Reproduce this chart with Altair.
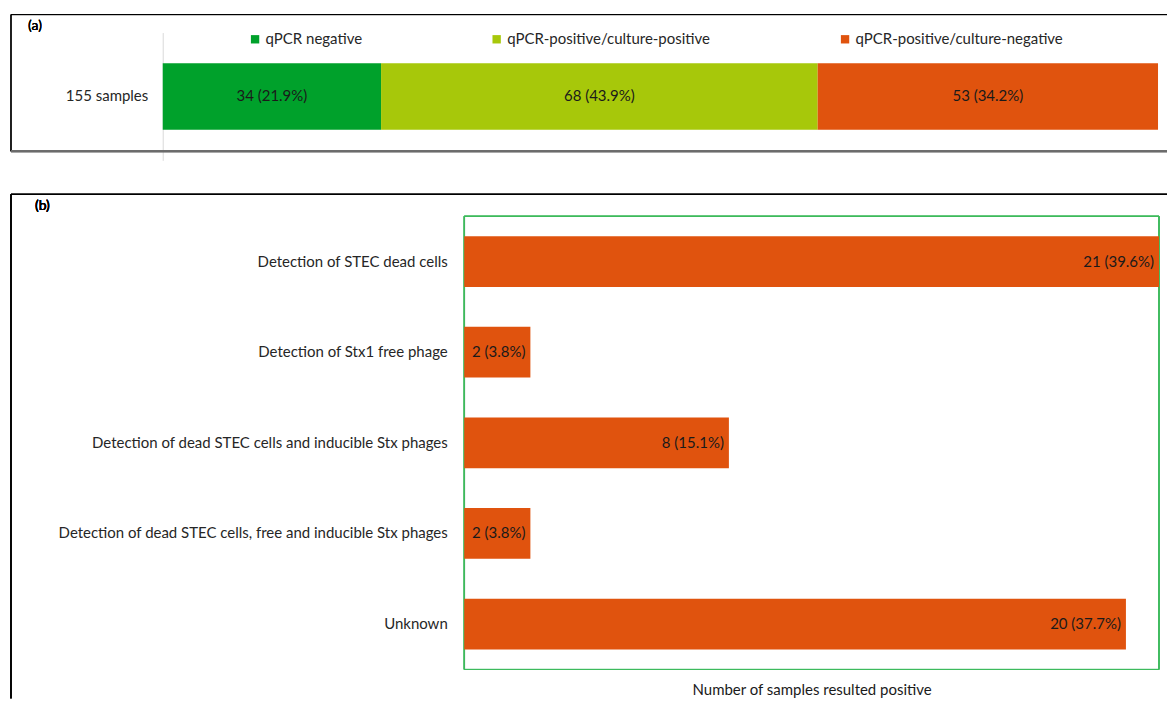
import altair as alt
import pandas as pd

FONT = "Lato"

# ---------- panel (a) data ----------
a_row = "155 samples"
a_total = 155
a_categories = ["qPCR negative", "qPCR-positive/culture-positive", "qPCR-positive/culture-negative"]
a_counts = [34, 68, 53]
a_labels = ["34 (21.9%)", "68 (43.9%)", "53 (34.2%)"]
a_colors = ["#00A12B", "#A7C80A", "#E0530E"]

# ---------- panel (b) data ----------
b_categories = [
    "Detection of STEC dead cells",
    "Detection of Stx1 free phage",
    "Detection of dead STEC cells and inducible Stx phages",
    "Detection of dead STEC cells, free and inducible Stx phages",
    "Unknown",
]
b_counts = [21, 2, 8, 2, 20]
b_labels = ["21 (39.6%)", "2 (3.8%)", "8 (15.1%)", "2 (3.8%)", "20 (37.7%)"]
b_color = "#E0530E"
b_xtitle = "Number of samples resulted positive"

# ---------- tables ----------
starts = []
acc = 0
for c in a_counts:
    starts.append(acc)
    acc += c
df_a = pd.DataFrame({
    "row": [a_row] * len(a_counts),
    "category": a_categories,
    "count": a_counts,
    "start": starts,
    "end": [s + c for s, c in zip(starts, a_counts)],
    "mid": [s + c / 2 for s, c in zip(starts, a_counts)],
    "label": a_labels,
})
df_b = pd.DataFrame({"category": b_categories, "count": b_counts, "label": b_labels})

W = 1158
HA = 137
HB = 505
FS = 15

# ---------- panel (a) ----------
xa = alt.Scale(domain=[0, a_total], range=[152, 1149], nice=False, zero=False)
ya = alt.Scale(domain=[a_row], range=[18, 146], paddingInner=0, paddingOuter=0.46)

base_a = alt.Chart(df_a)
bars_a = base_a.mark_bar(stroke=None).encode(
    x=alt.X("start:Q", scale=xa, axis=None),
    x2="end:Q",
    y=alt.Y("row:N", scale=ya,
            axis=alt.Axis(title=None, orient="left", offset=-152, ticks=False,
                          labelPadding=15, domainColor="#d9d9d9", labelFontSize=FS,
                          labelColor="#262626", labelFont=FONT)),
    color=alt.Color("category:N",
                    scale=alt.Scale(domain=a_categories, range=a_colors),
                    legend=alt.Legend(orient="none", legendX=237, legendY=17,
                                      direction="horizontal", columns=3, title=None,
                                      symbolType="square", symbolSize=70,
                                      symbolStrokeWidth=0, labelFontSize=FS,
                                      labelFont=FONT, labelColor="#262626", labelLimit=500,
                                      columnPadding=127, labelOffset=3, padding=0)),
)
text_a = base_a.mark_text(fontSize=FS, font=FONT, color="#1a1a1a").encode(
    x=alt.X("mid:Q", scale=xa),
    y=alt.Y("row:N", scale=ya),
    text="label:N",
)
frame_top_a = alt.Chart(df_a).mark_rule(color="#000000", strokeWidth=1).encode(
    x=alt.value(0), x2=alt.value(W), y=alt.value(0))
frame_left_a = alt.Chart(df_a).mark_rule(color="#000000", strokeWidth=1).encode(
    x=alt.value(0), y=alt.value(0), y2=alt.value(HA))
frame_bot_a = alt.Chart(df_a).mark_rule(color="#6b6b6b", strokeWidth=2).encode(
    x=alt.value(0), x2=alt.value(W), y=alt.value(HA))
tag_a = alt.Chart(df_a).mark_text(fontSize=14, font=FONT, color="#000000", align="left").encode(
    x=alt.value(17), y=alt.value(11), text=alt.value("(a)"))

panel_a = alt.layer(frame_top_a, frame_left_a, frame_bot_a, tag_a, bars_a, text_a).properties(
    width=W, height=HA)

# ---------- panel (b) ----------
xb = alt.Scale(domain=[0, max(b_counts)], range=[454, 1150], nice=False, zero=True)
yb = alt.Scale(domain=b_categories, range=[22, 476], paddingInner=0.44, paddingOuter=0.22)

base_b = alt.Chart(df_b)
box_b = base_b.mark_rect(filled=False, stroke="#3dba5c", strokeWidth=1).encode(
    x=alt.datum(0), x2=alt.datum(max(b_counts)), y=alt.value(22), y2=alt.value(476))
bars_b = base_b.mark_bar(color=b_color).encode(
    x=alt.X("count:Q", scale=xb,
            axis=alt.Axis(title=b_xtitle, orient="bottom", offset=-(HB - 476), ticks=False,
                          labels=False, domain=False, grid=False, titlePadding=13,
                          titleFontSize=FS, titleFont=FONT, titleFontWeight="normal",
                          titleColor="#1a1a1a")),
    y=alt.Y("category:N", scale=yb, sort=b_categories,
            axis=alt.Axis(title=None, orient="left", offset=-454, ticks=False,
                          labelPadding=17, domainColor="#bfbfbf", labelFontSize=FS,
                          labelColor="#262626", labelFont=FONT, labelLimit=600)),
)
text_b = base_b.mark_text(fontSize=FS, font=FONT, color="#1a1a1a", align="right", dx=-5).encode(
    x=alt.X("count:Q", scale=xb),
    y=alt.Y("category:N", scale=yb, sort=b_categories),
    text="label:N",
)
frame_top_b = alt.Chart(df_b).mark_rule(color="#000000", strokeWidth=1).encode(
    x=alt.value(0), x2=alt.value(W), y=alt.value(0))
frame_left_b = alt.Chart(df_b).mark_rule(color="#000000", strokeWidth=1).encode(
    x=alt.value(0), y=alt.value(0), y2=alt.value(HB))
tag_b = alt.Chart(df_b).mark_text(fontSize=14, font=FONT, color="#000000", align="left").encode(
    x=alt.value(24), y=alt.value(12), text=alt.value("(b)"))

panel_b = alt.layer(frame_top_b, frame_left_b, tag_b, box_b, bars_b, text_b).properties(
    width=W, height=HB)

chart = alt.vconcat(panel_a, panel_b, spacing=43, bounds="flush").configure_view(
    stroke=None).properties(padding={"left": 2, "top": 5, "right": 0, "bottom": 0})

chart.save("out.html", embed_options={"renderer": "svg", "actions": False})
